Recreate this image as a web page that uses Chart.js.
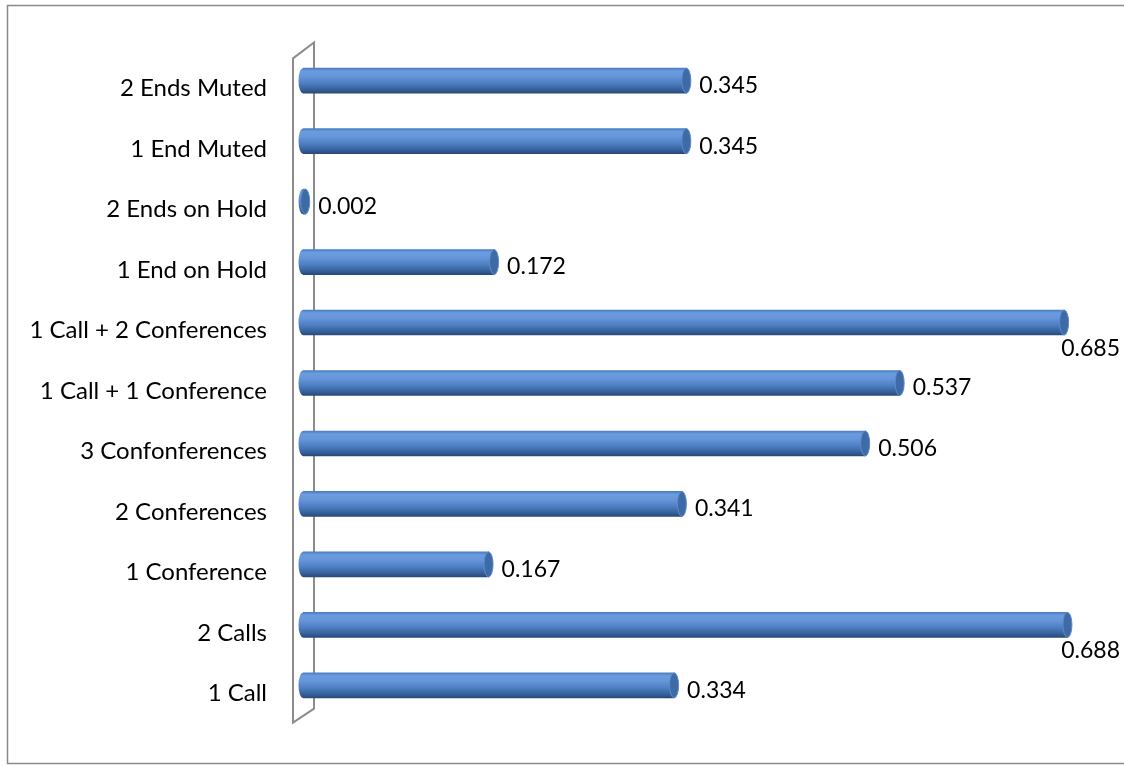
<!DOCTYPE html>
<html>
<head>
<meta charset="utf-8">
<title>Call scenarios</title>
<script src="https://cdn.jsdelivr.net/npm/chart.js@4.4.1/dist/chart.umd.min.js"></script>
<style>
  html, body { margin: 0; padding: 0; background: #ffffff; overflow: hidden; }
  #c { display: block; }
</style>
</head>
<body>
<canvas id="c" width="1124" height="766"></canvas>
<script>
// Scenario names (bottom to top) and their measured values
const categories = [
  '1 Call',
  '2 Calls',
  '1 Conference',
  '2 Conferences',
  '3 Confonferences',
  '1 Call + 1 Conference',
  '1 Call + 2 Conferences',
  '1 End on Hold',
  '2 Ends on Hold',
  '1 End Muted',
  '2 Ends Muted'
];
const values = [0.334, 0.688, 0.167, 0.341, 0.506, 0.537, 0.685, 0.172, 0.002, 0.345, 0.345];
const valueLabels = ['0.334', '0.688', '0.167', '0.341', '0.506', '0.537', '0.685', '0.172', '0.002', '0.345', '0.345'];

const FONT = 'Lato, Carlito, Calibri, sans-serif';
const BAR_H = 25;
const CAP_RX = 4.5;

// Vertical shading that makes each bar read as a cylinder
function cylinderGradient(c, yTop, yBot) {
  const g = c.createLinearGradient(0, yTop, 0, yBot);
  g.addColorStop(0.00, '#4b7dc1');
  g.addColorStop(0.12, '#6a9ce0');
  g.addColorStop(0.32, '#6796da');
  g.addColorStop(0.60, '#4d7fc2');
  g.addColorStop(0.85, '#36619c');
  g.addColorStop(1.00, '#284a79');
  return g;
}

// Outer frame of the chart box
const framePlugin = {
  id: 'frame',
  beforeDraw(chart) {
    const c = chart.ctx;
    c.save();
    c.strokeStyle = '#8a8a8a';
    c.lineWidth = 1.5;
    c.beginPath();
    c.moveTo(1124, 5.5);
    c.lineTo(7.5, 5.5);
    c.lineTo(7.5, 763.5);
    c.lineTo(1124, 763.5);
    c.stroke();
    c.restore();
  }
};

// Thin 3D axis wall behind the bars, plus the rounded ends of the bars
const wallPlugin = {
  id: 'wall',
  beforeDatasetsDraw(chart) {
    const c = chart.ctx;
    const a = chart.chartArea;
    c.save();
    c.strokeStyle = '#8c8c8c';
    c.lineWidth = 2;
    c.lineJoin = 'miter';
    c.beginPath();
    c.moveTo(a.left - 10, a.top + 8);
    c.lineTo(a.left + 11, a.top - 8);
    c.lineTo(a.left + 11, a.bottom - 7);
    c.lineTo(a.left - 10, a.bottom + 7);
    c.closePath();
    c.stroke();
    c.restore();
  },
  afterDatasetsDraw(chart) {
    const c = chart.ctx;
    const meta = chart.getDatasetMeta(0);
    c.save();
    meta.data.forEach((bar) => {
      const h = bar.height;
      const top = bar.y - h / 2;
      // near end (half ellipse on the zero side)
      c.fillStyle = cylinderGradient(c, top, top + h);
      c.beginPath();
      c.ellipse(bar.base, bar.y, CAP_RX, h / 2, 0, Math.PI / 2, Math.PI * 1.5);
      c.closePath();
      c.fill();
      // far end cap
      c.beginPath();
      c.ellipse(bar.x, bar.y, CAP_RX, h / 2, 0, 0, Math.PI * 2);
      c.fillStyle = '#3e6aa6';
      c.fill();
      c.lineWidth = 1;
      c.strokeStyle = '#5d8acb';
      c.stroke();
    });
    c.restore();
  }
};

// Value labels next to each bar end (dropped below the bar when there is no room)
const valueLabelPlugin = {
  id: 'valueLabels',
  afterDatasetsDraw(chart) {
    const c = chart.ctx;
    const meta = chart.getDatasetMeta(0);
    c.save();
    c.font = '23px ' + FONT;
    c.fillStyle = '#000000';
    c.textBaseline = 'middle';
    meta.data.forEach((bar, i) => {
      const txt = valueLabels[i];
      const w = c.measureText(txt).width;
      const x = bar.x + 13;
      if (x + w > chart.width - 4) {
        c.textAlign = 'right';
        c.fillText(txt, chart.width - 4, bar.y + 26);
      } else {
        c.textAlign = 'left';
        c.fillText(txt, x, bar.y + 5);
      }
    });
    c.restore();
  }
};

new Chart(document.getElementById('c'), {
  type: 'bar',
  data: {
    labels: categories,
    datasets: [{
      data: values,
      barThickness: BAR_H,
      borderWidth: 0,
      backgroundColor: (ctx) => {
        const chart = ctx.chart;
        if (!chart.chartArea || !chart.scales.y) return '#4f81bd';
        const y = chart.scales.y.getPixelForValue(ctx.dataIndex);
        return cylinderGradient(chart.ctx, y - BAR_H / 2, y + BAR_H / 2);
      }
    }]
  },
  options: {
    indexAxis: 'y',
    responsive: false,
    animation: false,
    devicePixelRatio: 1,
    layout: { padding: { top: 50, bottom: 43, right: 21, left: 0 } },
    plugins: {
      legend: { display: false },
      tooltip: { enabled: false },
      title: { display: false }
    },
    scales: {
      x: {
        display: false,
        min: 0,
        max: 0.72
      },
      y: {
        reverse: true,
        afterFit(scale) { scale.width = 303; },
        grid: { display: false, drawTicks: false },
        border: { display: false },
        ticks: {
          color: '#000000',
          padding: 36,
          labelOffset: 8,
          font: { family: FONT, size: 24 }
        }
      }
    }
  },
  plugins: [framePlugin, wallPlugin, valueLabelPlugin]
});
</script>
</body>
</html>
